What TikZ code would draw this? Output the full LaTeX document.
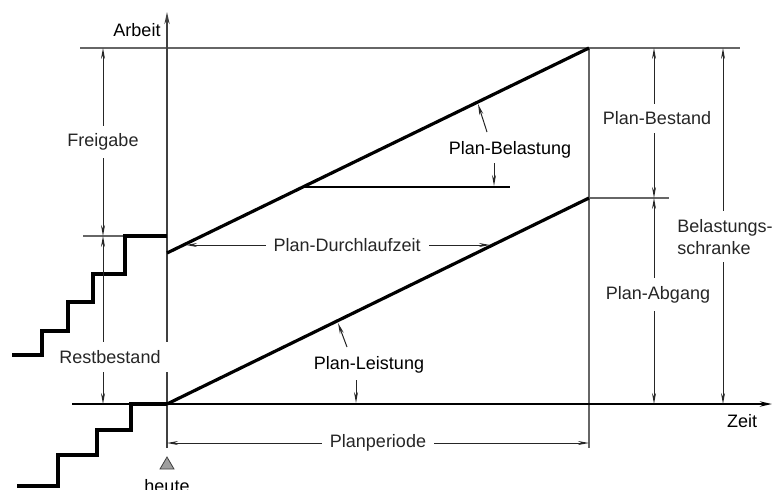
\documentclass[tikz,border=0pt]{standalone}
\usepackage{fontspec}
\setmainfont{Liberation Sans}
\usetikzlibrary{arrows.meta}

\tikzset{
  guide/.style={line width=0.9pt, black!60},
  axis/.style={line width=1pt, black, -{Stealth[length=6pt,width=2.6pt]}},
  dim/.style={line width=0.5pt, black!85, {Stealth[length=5.5pt,width=2pt]}-{Stealth[length=5.5pt,width=2pt]}},
  pointer/.style={line width=0.5pt, black!85, -{Stealth[length=5.5pt,width=2pt]}},
  curve/.style={line width=1.6pt, black},
  lbl/.style={fill=white, inner sep=4pt},
}

\begin{document}
\begin{tikzpicture}[x=0.5pt, y=-0.5pt, font=\fontsize{9}{11}\selectfont]
  \useasboundingbox (0,0) rectangle (775,489);

  \coordinate (O) at (167,404);
  \coordinate (ytop) at (167,12);
  \coordinate (ybot) at (167,448);
  \coordinate (xleft) at (72,404);
  \coordinate (xend) at (772,404);
  \coordinate (up0) at (167,253);
  \coordinate (up1) at (589,48);
  \coordinate (lo1) at (589,198);
  \coordinate (pend) at (589,448);

  % guide lines
  \draw[guide] (80,48) coordinate (tl) -- (740,48) coordinate (tr);
  \draw[guide] (83,236) coordinate (ml) -- (167,236) coordinate (mr);
  \draw[guide] (lo1) -- (669,198) coordinate (lr);
  \draw[guide] (up1) -- (pend);

  % axes
  \draw[axis] (xleft) -- (xend);
  \draw[axis, black!75, line width=0.9pt] (ybot) -- (ytop);
  \node (arbeit) at (137,30) {Arbeit};
  \node (zeit) at (742,421) {Zeit};

  % staircases
  \draw[curve] (167,236) -- (125,236) |- (93,274) |- (68,302) |- (42,331) |- (12,355);
  \draw[curve] (O) -- (131,404) |- (97,430) |- (58,455) |- (17,486);

  % plan lines
  \draw[curve] (up0) -- (up1);
  \draw[curve] (O) -- (lo1);
  \draw[line width=1.1pt] (303,187) coordinate (h1) -- (510,187) coordinate (h2);

  % dimensions
  \draw[dim] (103,48) coordinate (f1) -- node[lbl] (freigabe) {Freigabe} (103,236) coordinate (f2);
  \draw[dim] (f2) -- node[lbl, pos=0.72, xshift=3.5pt] (rest) {Restbestand} (103,404) coordinate (f3);
  \draw[dim] (654,48) coordinate (b1) -- node[lbl, pos=0.47, xshift=1.5pt] (bestand) {Plan-Bestand} (654,198) coordinate (b2);
  \draw[dim] (b2) -- node[lbl, pos=0.47, xshift=2pt] (abgang) {Plan-Abgang} (654,404) coordinate (b3);
  \draw[dim] (723,48) coordinate (s1) -- node[lbl, pos=0.53, xshift=1pt, align=left] (schranke) {Belastungs-\\schranke} (723,404) coordinate (s2);
  \draw[dim] (167,443) coordinate (p1) -- node[lbl] (periode) {Planperiode} (589,443) coordinate (p2);
  \draw[dim] (186,245) coordinate (d1) -- node[lbl, pos=0.53] (dlz) {Plan-Durchlaufzeit} (490,245) coordinate (d2);

  % angle labels
  \node (belastung) at (510,150) {Plan-Belastung};
  \draw[pointer] (487,132) -- (478,104);
  \draw[pointer] (494,163) -- (494,186);
  \node (leistung) at (369,365) {Plan-Leistung};
  \draw[pointer] (347,347) -- (338,323);
  \draw[pointer] (356,380) -- (356,403);

  % today marker
  \filldraw[fill=gray!75, draw=gray!50!black, line width=0.4pt] (160,469) -- (174,469) -- (167,457) -- cycle;
  \node[anchor=base] (heute) at (167,492) {heute};
\end{tikzpicture}
\end{document}
